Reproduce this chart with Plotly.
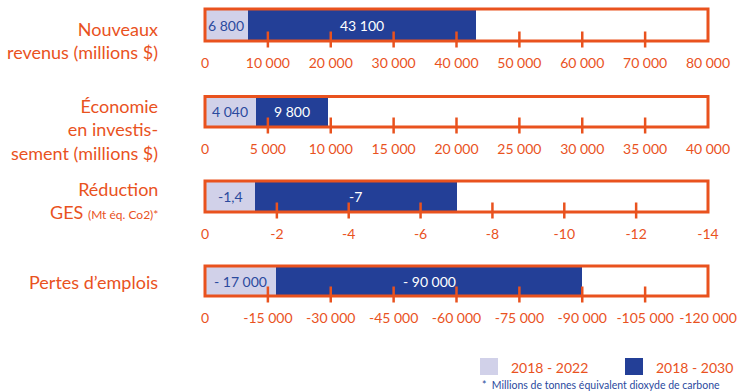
import plotly.graph_objects as go

# ---------------- data ----------------
row_titles = [
    "Nouveaux<br>revenus (millions $)",
    "Économie<br>en investis-<br>sement (millions $)",
    "Réduction<br>GES <span style='font-size:12px'>(Mt éq. Co2)*</span>",
    "Pertes d’emplois",
]
values_2018_2022 = [6800, 4040, -1.4, -17000]
values_2018_2030 = [43100, 9800, -7, -90000]
labels_2018_2022 = ["6 800", "4 040", "-1,4", "- 17 000"]
labels_2018_2030 = ["43 100", "9 800", "-7", "- 90 000"]

ticks_revenus = [0, 10000, 20000, 30000, 40000, 50000, 60000, 70000, 80000]
ticks_economie = [0, 5000, 10000, 15000, 20000, 25000, 30000, 35000, 40000]
ticks_ges = [0, -2, -4, -6, -8, -10, -12, -14]
ticks_emplois = [0, -15000, -30000, -45000, -60000, -75000, -90000, -105000, -120000]
tick_sets = [ticks_revenus, ticks_economie, ticks_ges, ticks_emplois]

legend_names = ["2018 - 2022", "2018 - 2030"]
footnote = "*  Millions de tonnes équivalent dioxyde de carbone"

# ---------------- style ----------------
W, H = 746, 392
ORANGE = "#E9521E"
LIGHT = "#D1D1E9"
DARK = "#233F97"
TXT_BLUE = "#2B4A9E"
FONT = "Lato"

X0, X1 = 205, 708
boxes = [(9, 41), (96.5, 127), (181, 212), (266, 296)]
title_centers = [40, 129, 200, 282]


def fmt(v):
    s = f"{abs(v):,}".replace(",", " ")
    return ("-" if v < 0 else "") + s


fig = go.Figure()
shapes = []
annotations = []
layout_axes = {}

for i in range(4):
    n = i + 1
    xa = "x" if n == 1 else f"x{n}"
    ya = "y" if n == 1 else f"y{n}"
    top, bot = boxes[i]
    h = bot - top
    ticks = tick_sets[i]

    fig.add_trace(go.Bar(
        x=[values_2018_2030[i]], y=[0], orientation="h", width=1,
        marker=dict(color=DARK, line=dict(width=0)),
        xaxis=xa, yaxis=ya, showlegend=False, hoverinfo="skip",
    ))
    fig.add_trace(go.Bar(
        x=[values_2018_2022[i]], y=[0], orientation="h", width=1,
        marker=dict(color=LIGHT, line=dict(width=0)),
        xaxis=xa, yaxis=ya, showlegend=False, hoverinfo="skip",
    ))

    layout_axes["xaxis" if n == 1 else f"xaxis{n}"] = dict(
        domain=[X0 / W, X1 / W], anchor=ya, range=[ticks[0], ticks[-1]],
        tickvals=ticks, ticktext=[fmt(t) for t in ticks],
        ticks="", showgrid=False, zeroline=False, showline=False,
        tickfont=dict(family=FONT, size=14, color=ORANGE),
        ticklabelstandoff=12, fixedrange=True, automargin=False,
    )
    layout_axes["yaxis" if n == 1 else f"yaxis{n}"] = dict(
        domain=[1 - bot / H, 1 - top / H], anchor=xa, range=[-0.5, 0.5],
        showticklabels=False, showgrid=False, zeroline=False, ticks="",
        fixedrange=True, automargin=False,
    )

    # box border
    shapes.append(dict(type="rect", xref=f"{xa} domain", yref=f"{ya} domain",
                       x0=0, x1=1, y0=0, y1=1,
                       line=dict(color=ORANGE, width=3), layer="above"))
    # crossing tick marks
    for t in ticks[1:-1]:
        shapes.append(dict(type="line", xref=xa, yref=f"{ya} domain",
                           x0=t, x1=t, y0=-6.5 / h, y1=9.5 / h,
                           line=dict(color=ORANGE, width=2.5), layer="above"))

    # bar value labels
    annotations.append(dict(xref=xa, yref=ya, x=values_2018_2022[i] / 2, y=0,
                            text=labels_2018_2022[i], showarrow=False,
                            font=dict(family=FONT, size=14, color=TXT_BLUE)))
    annotations.append(dict(xref=xa, yref=ya,
                            x=(values_2018_2022[i] + values_2018_2030[i]) / 2, y=0,
                            text=labels_2018_2030[i], showarrow=False,
                            font=dict(family=FONT, size=14, color="white")))
    # row title
    annotations.append(dict(xref="paper", yref="paper", x=160 / W,
                            y=1 - title_centers[i] / H, xanchor="right",
                            yanchor="middle", align="right", text=row_titles[i],
                            showarrow=False,
                            font=dict(family=FONT, size=18, color=ORANGE)))

# legend
legend_colors = [LIGHT, DARK]
legend_x = [480, 625]
for k in range(2):
    shapes.append(dict(type="rect", xref="paper", yref="paper",
                       x0=legend_x[k] / W, x1=(legend_x[k] + 18) / W,
                       y0=1 - 375 / H, y1=1 - 358 / H,
                       fillcolor=legend_colors[k], line=dict(width=0)))
    annotations.append(dict(xref="paper", yref="paper",
                            x=(legend_x[k] + 29) / W, y=1 - 367 / H,
                            xanchor="left", yanchor="middle",
                            text=legend_names[k], showarrow=False,
                            font=dict(family=FONT, size=14, color=ORANGE)))
annotations.append(dict(xref="paper", yref="paper", x=480 / W, y=1 - 384.5 / H,
                        xanchor="left", yanchor="middle", text=footnote,
                        showarrow=False,
                        font=dict(family=FONT, size=10.5, color=TXT_BLUE)))

fig.update_layout(
    template="none",
    width=W, height=H, margin=dict(l=0, r=0, t=0, b=0, pad=0),
    paper_bgcolor="white", plot_bgcolor="white",
    barmode="overlay", bargap=0, showlegend=False,
    shapes=shapes, annotations=annotations, **layout_axes,
)

fig.write_html("out.html", config={"displayModeBar": False})
